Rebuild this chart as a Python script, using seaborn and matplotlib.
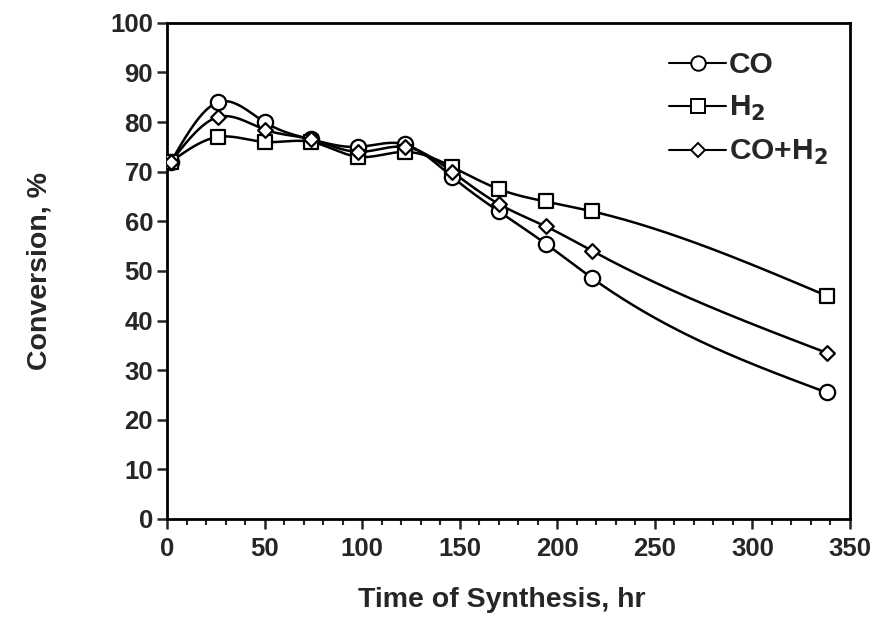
import numpy as np
import pandas as pd
import matplotlib
matplotlib.use("Agg")
import matplotlib.pyplot as plt
import seaborn as sns
from matplotlib.ticker import MultipleLocator
from matplotlib.lines import Line2D

# ---- data ----
time_hr = [2, 26, 50, 74, 98, 122, 146, 170, 194, 218, 338]
co = [72, 84, 80, 76.5, 75, 75.5, 69, 62, 55.5, 48.5, 25.5]
h2 = [72, 77, 76, 76, 73, 74, 71, 66.5, 64, 62, 45]
co_h2 = [72, 81, 78.5, 76.5, 74, 75, 70, 63.5, 59, 54, 33.5]
series_names = ["CO", "H$_2$", "CO+H$_2$"]
series_values = [co, h2, co_h2]
marker_shapes = ["o", "s", "D"]
marker_sizes = [11, 10.5, 7.5]

sns.set_theme(style="ticks")
plt.rcParams["font.family"] = ["Liberation Sans", "DejaVu Sans"]
plt.rcParams["font.weight"] = "bold"
plt.rcParams["mathtext.default"] = "bf"


def smooth_curve(x, y, n=400):
    """Natural cubic spline used only to render the smoothed line through the data points."""
    x = np.asarray(x, float)
    y = np.asarray(y, float)
    k = len(x)
    h = np.diff(x)
    A = np.zeros((k, k))
    b = np.zeros(k)
    A[0, 0] = A[-1, -1] = 1.0
    for i in range(1, k - 1):
        A[i, i - 1] = h[i - 1]
        A[i, i] = 2 * (h[i - 1] + h[i])
        A[i, i + 1] = h[i]
        b[i] = 6 * ((y[i + 1] - y[i]) / h[i] - (y[i] - y[i - 1]) / h[i - 1])
    M = np.linalg.solve(A, b)
    xs = np.linspace(x[0], x[-1], n)
    idx = np.clip(np.searchsorted(x, xs) - 1, 0, k - 2)
    x0, x1 = x[idx], x[idx + 1]
    hh = x1 - x0
    t0 = x1 - xs
    t1 = xs - x0
    ys = (M[idx] * t0 ** 3 / (6 * hh) + M[idx + 1] * t1 ** 3 / (6 * hh)
          + (y[idx] / hh - M[idx] * hh / 6) * t0 + (y[idx + 1] / hh - M[idx + 1] * hh / 6) * t1)
    return xs, ys


rows = []
for name, vals in zip(series_names, series_values):
    for t, v in zip(time_hr, vals):
        rows.append({"time": t, "conv": v, "series": name})
df = pd.DataFrame(rows)

srows = []
for name, vals in zip(series_names, series_values):
    sx, sy = smooth_curve(time_hr, vals)
    for a, b in zip(sx, sy):
        srows.append({"time": a, "conv": b, "series": name})
sdf = pd.DataFrame(srows)

fig = plt.figure(figsize=(8.79, 6.28), dpi=100)
ax = fig.add_axes([0.190, 0.1736, 0.777, 0.790])

palette = {n: "black" for n in series_names}
sns.lineplot(data=sdf, x="time", y="conv", hue="series", palette=palette,
             sort=False, estimator=None, lw=1.8, legend=False, ax=ax)
for name, m, ms in zip(series_names, marker_shapes, marker_sizes):
    sub = df[df["series"] == name]
    sns.scatterplot(data=sub, x="time", y="conv", marker=m, s=ms ** 2,
                    facecolor="white", edgecolor="black", linewidth=1.6,
                    zorder=3, legend=False, ax=ax)

ax.set_xlim(0, 350)
ax.set_ylim(0, 100)
ax.xaxis.set_major_locator(MultipleLocator(50))
ax.xaxis.set_minor_locator(MultipleLocator(10))
ax.yaxis.set_major_locator(MultipleLocator(10))
ax.tick_params(axis="x", which="major", direction="out", length=7, width=1.8,
               labelsize=18.5, pad=6)
ax.tick_params(axis="x", which="minor", direction="out", length=4, width=1.5)
ax.tick_params(axis="y", which="major", direction="out", length=7, width=1.8,
               labelsize=18.5, pad=3)
for lab in ax.get_xticklabels() + ax.get_yticklabels():
    lab.set_fontweight("bold")
for sp in ax.spines.values():
    sp.set_visible(True)
    sp.set_linewidth(2.0)
    sp.set_color("black")

ax.set_xlabel("Time of Synthesis, hr", fontsize=20.5, fontweight="bold")
ax.set_ylabel("Conversion, %", fontsize=20.5, fontweight="bold")
ax.xaxis.set_label_coords(0.49, -0.138)
ax.yaxis.set_label_coords(-0.168, 0.5)

handles = [Line2D([0], [0], color="black", lw=1.5, marker=m, ms=ms * 0.95,
                  markerfacecolor="white", markeredgecolor="black", markeredgewidth=1.4)
           for m, ms in zip(marker_shapes, marker_sizes)]
leg = ax.legend(handles, series_names, loc="upper left", frameon=False,
                fontsize=21.5, handlelength=1.9, handletextpad=0.1, labelspacing=0.5,
                bbox_to_anchor=(0.705, 0.985), borderaxespad=0.3)
for t in leg.get_texts():
    t.set_fontweight("bold")

fig.savefig("out.png", dpi=100)
